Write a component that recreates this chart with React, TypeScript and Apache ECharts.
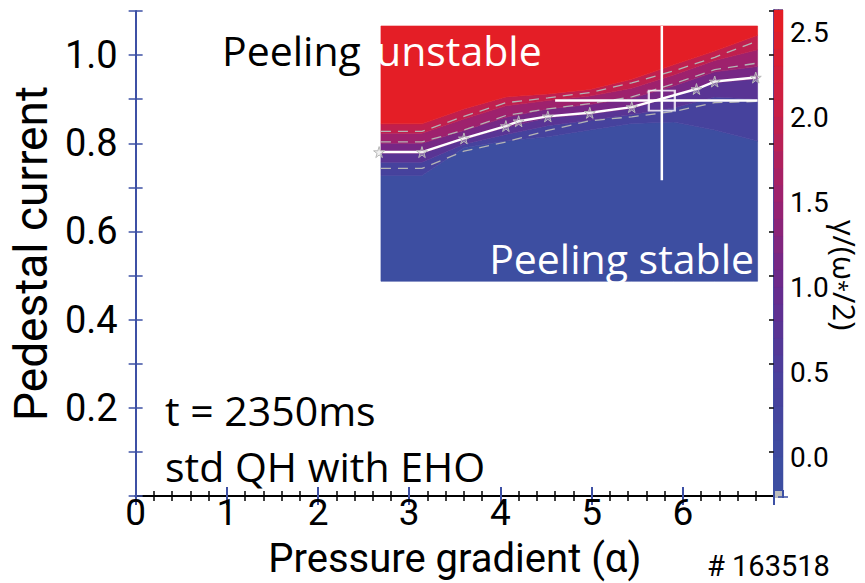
import React, { useEffect, useRef } from 'react';
import * as echarts from 'echarts';

// ---- data ----
// columns of the growth-rate map (pressure gradient alpha)
const alphaGrid = [2.69, 3.14, 3.6, 4.06, 4.52, 4.98, 5.44, 5.9, 6.35, 6.82];
// vertical extent of the map (pedestal current)
const mapJRange = [0.487, 1.066];
// contour levels of gamma/(omega*/2) and the J where each level is crossed
const contourLevels = [0.2, 0.6, 1.0, 1.4, 1.8, 2.2];
const contour02 = [0.727, 0.727, 0.79, 0.805, 0.815, 0.83, 0.845, 0.848, 0.83, 0.805];
const contour06 = [0.757, 0.757, 0.798, 0.82, 0.84, 0.852, 0.865, 0.88, 0.905, 0.9];
const contour10 = [0.777, 0.777, 0.808, 0.836, 0.858, 0.866, 0.879, 0.906, 0.937, 0.946];
const contour14 = [0.8, 0.8, 0.829, 0.859, 0.878, 0.888, 0.902, 0.93, 0.962, 0.974];
const contour18 = [0.823, 0.823, 0.855, 0.885, 0.897, 0.907, 0.925, 0.955, 0.988, 1.012];
const contour22 = [0.844, 0.844, 0.878, 0.905, 0.912, 0.922, 0.945, 0.978, 1.009, 1.045];
// growth rate assigned to each filled band (bottom to top)
const bandValues = [0, 0.4, 0.8, 1.2, 1.6, 2.0, 2.6];
// stability boundary (white line with stars)
const boundaryAlpha = [2.67, 3.14, 3.6, 4.06, 4.2, 4.52, 4.98, 5.44, 6.15, 6.35, 6.8];
const boundaryJ = [0.78, 0.78, 0.811, 0.839, 0.85, 0.861, 0.869, 0.882, 0.923, 0.94, 0.949];
// dashed gray lines
const upperDashJ = [0.827, 0.827, 0.861, 0.892, 0.903, 0.915, 0.937, 0.964, 0.995, 1.032];
const middleDashJ = [0.803, 0.803, 0.83, 0.863, 0.878, 0.89, 0.905, 0.935, 0.967, 0.982];
const lowerDashJ = [0.743, 0.743, 0.782, 0.803, 0.829, 0.851, 0.86, 0.872, 0.892, 0.895];
// experimental operating point with error bars
const expPoint = [5.77, 0.897];
const expAlphaRange = [4.6, 6.82];
const expJRange = [0.716, 1.066];
// colorbar steps
const colorbarEdges = [
  -0.2, -0.1, 0, 0.1, 0.2, 0.3, 0.4, 0.5, 0.6, 0.7, 0.8, 0.9, 1.0, 1.1, 1.2, 1.3, 1.4,
  1.5, 1.6, 1.7, 1.8, 1.9, 2.0, 2.1, 2.2, 2.3, 2.4, 2.5, 2.6, 2.63,
];
const colorMin = 0;
const colorMax = 2.6;
const colorStops = ['#3d4ea1', '#493f9c', '#672a8e', '#9b2170', '#c71f48', '#e41e26'];

const FONT = "'Open Sans', sans-serif";
const AXFONT = "Roboto, sans-serif";
const BLUE = '#3d50a5';
const STAR =
  'path://M50,0 L61,35 L98,35 L68,57 L79,91 L50,70 L21,91 L32,57 L2,35 L39,35 Z';

export default function App() {
  const ref = useRef<HTMLDivElement>(null);

  useEffect(() => {
    document.body.style.margin = '0';
    if (!ref.current) return;
    const chart = echarts.init(ref.current, null, { renderer: 'svg' });

    const contours = [contour02, contour06, contour10, contour14, contour18, contour22];
    const bandData = bandValues.map((v, i) => [i, v]);
    const colorbarData = colorbarEdges.slice(0, -1).map((lo, i) => {
      const hi = colorbarEdges[i + 1];
      return [lo, hi, Math.min(hi, colorMax)];
    });

    const yFmt = (v: number) => {
      const r = Math.round(v * 10);
      return r > 0 && r <= 10 && r % 2 === 0 ? (r / 10).toFixed(1) : '';
    };
    const cbFmt = (v: number) => {
      const r = Math.round(v * 10);
      return r >= 0 && r % 5 === 0 && Math.abs(v * 10 - r) < 1e-6 ? (r / 10).toFixed(1) : '';
    };

    const xCommon = { type: 'value', min: 0, max: 7, interval: 1, splitLine: { show: false } };
    const yCommon = { type: 'value', min: 0, max: 1.1, interval: 0.1, splitLine: { show: false } };
    const cbCommon = { type: 'value', min: -0.2, max: 2.63, interval: 0.1, splitLine: { show: false } };

    const option: any = {
      animation: false,
      backgroundColor: '#ffffff',
      grid: [
        { left: 126, top: 11, width: 648, height: 486.5 },
        { left: 774, top: 10, width: 9, height: 481 },
      ],
      visualMap: [
        {
          type: 'continuous', show: false, seriesIndex: 0, dimension: 1,
          min: colorMin, max: colorMax,
          inRange: { color: colorStops }, outOfRange: { color: '#bdbdbd' },
        },
        {
          type: 'continuous', show: false, seriesIndex: 1, dimension: 2,
          min: colorMin, max: colorMax,
          inRange: { color: colorStops }, outOfRange: { color: '#bdbdbd' },
        },
      ],
      xAxis: [
        {
          ...xCommon, gridIndex: 0, position: 'bottom',
          axisLine: { lineStyle: { color: '#000', width: 2 } },
          axisTick: { inside: true, length: 9, lineStyle: { color: BLUE, width: 2 } },
          minorTick: { show: true, splitNumber: 5, length: 5, lineStyle: { color: '#000', width: 1.5 } },
          axisLabel: {
            fontSize: 37, fontFamily: AXFONT, color: '#000', margin: 1.5, lineHeight: 30,
            formatter: (v: number) => (v >= 7 ? '' : String(v)),
          },
          name: 'Pressure gradient (α)', nameLocation: 'middle', nameGap: 42,
          nameTextStyle: { fontSize: 40, fontFamily: AXFONT, color: '#000', lineHeight: 40 },
        },
        {
          ...xCommon, gridIndex: 0, position: 'top',
          axisLine: { lineStyle: { color: '#000', width: 2 } },
          axisTick: { inside: true, length: 9, lineStyle: { color: BLUE, width: 2 } },
          minorTick: { show: true, splitNumber: 5, length: 5, lineStyle: { color: '#000', width: 1.5 } },
          axisLabel: { show: false },
        },
        { type: 'value', gridIndex: 1, min: 0, max: 1, show: false },
      ],
      yAxis: [
        {
          ...yCommon, gridIndex: 0, position: 'left',
          axisLine: { lineStyle: { color: BLUE, width: 2 } },
          axisTick: { inside: false, length: 7, lineStyle: { color: BLUE, width: 1.5 } },
          axisLabel: { fontSize: 38, fontFamily: AXFONT, color: '#000', margin: 18, lineHeight: 34, formatter: yFmt },
          name: 'Pedestal current', nameLocation: 'middle', nameGap: 66,
          nameTextStyle: { fontSize: 46, fontFamily: AXFONT, color: '#000', lineHeight: 44 },
        },
        {
          ...yCommon, gridIndex: 0, position: 'left',
          axisLine: { show: false },
          axisTick: { inside: true, length: 7, lineStyle: { color: BLUE, width: 1.5 } },
          axisLabel: { show: false },
        },
        {
          ...yCommon, gridIndex: 0, position: 'right',
          axisLine: { lineStyle: { color: '#000', width: 2 } },
          axisTick: { inside: true, length: 5, lineStyle: { color: '#000', width: 1.5 } },
          axisLabel: { show: false },
        },
        {
          ...cbCommon, gridIndex: 1, position: 'right',
          axisLine: { lineStyle: { color: BLUE, width: 2 } },
          axisTick: { inside: false, length: 5, lineStyle: { color: BLUE, width: 1.5 } },
          axisLabel: { fontSize: 28, fontFamily: AXFONT, color: '#000', margin: 7, lineHeight: 26, formatter: cbFmt },
        },
        {
          ...cbCommon, gridIndex: 1, position: 'right',
          axisLine: { show: false },
          axisTick: { inside: true, length: 5, lineStyle: { color: BLUE, width: 1.5 } },
          axisLabel: { show: false },
        },
      ],
      series: [
        {
          type: 'custom', xAxisIndex: 0, yAxisIndex: 0, z: 1,
          data: bandData,
          renderItem: (params: any, api: any) => {
            const i = params.dataIndex;
            const lower = i === 0 ? alphaGrid.map(() => mapJRange[0]) : contours[i - 1];
            const upper = i === contours.length ? alphaGrid.map(() => mapJRange[1]) : contours[i];
            const pts: number[][] = [];
            alphaGrid.forEach((a, k) => pts.push(api.coord([a, lower[k]])));
            for (let k = alphaGrid.length - 1; k >= 0; k--) pts.push(api.coord([alphaGrid[k], upper[k]]));
            const c = api.visual('color');
            return { type: 'polygon', shape: { points: pts }, style: { fill: c, stroke: c, lineWidth: 0.6 } };
          },
        },
        {
          type: 'custom', xAxisIndex: 2, yAxisIndex: 3, z: 1,
          data: colorbarData,
          renderItem: (params: any, api: any) => {
            const lo = api.value(0);
            const hi = api.value(1);
            const p0 = api.coord([0, lo]);
            const p1 = api.coord([1, hi]);
            const c = api.visual('color');
            return {
              type: 'rect',
              shape: { x: p0[0], y: p1[1], width: p1[0] - p0[0], height: p0[1] - p1[1] },
              style: { fill: c, stroke: c, lineWidth: 0.5 },
            };
          },
        },
        ...[upperDashJ, middleDashJ, lowerDashJ].map((arr) => ({
          type: 'line', xAxisIndex: 0, yAxisIndex: 0, z: 3,
          data: alphaGrid.map((a, k) => [a, arr[k]]),
          symbol: 'none',
          lineStyle: { color: '#b4b4b4', width: 1.3, type: [10, 7] },
        })),
        {
          type: 'line', xAxisIndex: 0, yAxisIndex: 0, z: 4,
          data: boundaryAlpha.map((a, k) => [a, boundaryJ[k]]),
          symbol: STAR, symbolSize: 11, showSymbol: true,
          lineStyle: { color: '#ffffff', width: 2.5 },
          itemStyle: { color: 'rgba(215,215,215,0.35)', borderColor: '#b8b8b8', borderWidth: 1 },
        },
        {
          type: 'line', xAxisIndex: 0, yAxisIndex: 0, z: 5, symbol: 'none',
          data: [[expAlphaRange[0], expPoint[1]], [expAlphaRange[1], expPoint[1]]],
          lineStyle: { color: '#ffffff', width: 2.5 },
        },
        {
          type: 'line', xAxisIndex: 0, yAxisIndex: 0, z: 5, symbol: 'none',
          data: [[expPoint[0], expJRange[0]], [expPoint[0], expJRange[1]]],
          lineStyle: { color: '#ffffff', width: 2.5 },
        },
        {
          type: 'scatter', xAxisIndex: 0, yAxisIndex: 0, z: 6,
          data: [expPoint],
          symbol: 'rect', symbolSize: [26, 20],
          itemStyle: { color: 'rgba(0,0,0,0)', borderColor: '#ffffff', borderWidth: 2 },
        },
      ],
      graphic: [
        { type: 'rect', z: 100, shape: { x: 775, y: 491, width: 7, height: 7 }, style: { fill: '#bdbdbd' } },
        { type: 'line', z: 100, shape: { x1: 783, y1: 490, x2: 783, y2: 498 }, style: { stroke: BLUE, lineWidth: 2 } },
        { type: 'line', z: 100, shape: { x1: 778, y1: 497, x2: 788, y2: 497 }, style: { stroke: BLUE, lineWidth: 1.5 } },
        {
          type: 'text', z: 100, x: 222, y: 50,
          style: { text: 'Peeling', font: `41px ${FONT}`, fill: '#000', align: 'left', verticalAlign: 'middle', lineHeight: 40 },
        },
        {
          type: 'text', z: 100, x: 376, y: 50,
          style: { text: 'unstable', font: `41px ${FONT}`, fill: '#fff', align: 'left', verticalAlign: 'middle', lineHeight: 40 },
        },
        {
          type: 'text', z: 100, x: 754, y: 258,
          style: { text: 'Peeling stable', font: `41px ${FONT}`, fill: '#fff', align: 'right', verticalAlign: 'middle', lineHeight: 40 },
        },
        {
          type: 'text', z: 100, x: 165, y: 410,
          style: { text: 't = 2350ms', font: `41px ${FONT}`, fill: '#000', align: 'left', verticalAlign: 'middle', lineHeight: 40 },
        },
        {
          type: 'text', z: 100, x: 165, y: 466,
          style: { text: 'std QH with EHO', font: `41px ${FONT}`, fill: '#000', align: 'left', verticalAlign: 'middle', lineHeight: 40 },
        },
        {
          type: 'text', z: 100, x: 707, y: 566,
          style: { text: '# 163518', font: `29px ${AXFONT}`, fill: '#000', align: 'left', verticalAlign: 'middle', lineHeight: 26 },
        },
        {
          type: 'text', z: 100, x: 845, y: 275, rotation: -Math.PI / 2,
          style: {
            text: '{a|γ/(ω}{b|*}{a|/2)}',
            align: 'center', verticalAlign: 'middle', fill: '#000',
            rich: {
              a: { font: `31px ${FONT}`, fill: '#000', lineHeight: 30 },
              b: { font: `22px ${FONT}`, fill: '#000', verticalAlign: 'bottom', lineHeight: 30 },
            },
          },
        },
      ],
    };

    chart.setOption(option);
    return () => chart.dispose();
  }, []);

  return <div ref={ref} style={{ width: 865, height: 583 }} />;
}
